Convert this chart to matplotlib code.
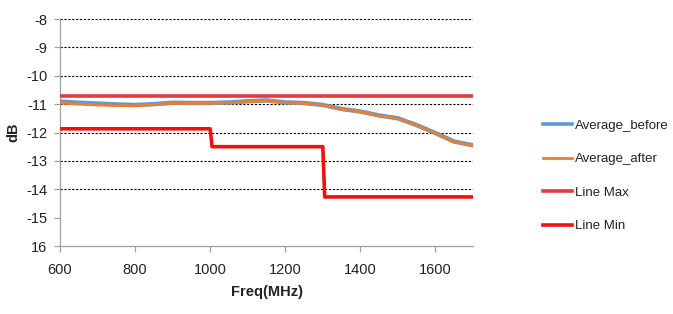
import matplotlib
matplotlib.use("Agg")
import matplotlib.pyplot as plt
from matplotlib.ticker import FixedLocator, FixedFormatter
from matplotlib.lines import Line2D

freq = [600, 650, 700, 750, 800, 850, 900, 950, 1000, 1050, 1100, 1150, 1200,
        1250, 1300, 1350, 1400, 1450, 1500, 1550, 1600, 1650, 1700]
avg_before = [-10.91, -10.95, -10.98, -11.01, -11.03, -11.0, -10.95, -10.96, -10.96,
              -10.94, -10.9, -10.87, -10.94, -10.96, -11.03, -11.17, -11.26, -11.4,
              -11.5, -11.74, -12.02, -12.32, -12.45]
avg_after = [-10.96, -11.0, -11.03, -11.05, -11.06, -11.02, -10.97, -10.97, -10.97,
             -10.95, -10.91, -10.88, -10.95, -10.97, -11.04, -11.18, -11.27, -11.41,
             -11.51, -11.75, -12.03, -12.33, -12.46]
max_freq = [600, 1700]
line_max = [-10.7, -10.7]
min_freq = [600, 1000, 1005, 1300, 1305, 1700]
line_min = [-11.87, -11.87, -12.5, -12.5, -14.27, -14.27]

y_ticks = [-8, -9, -10, -11, -12, -13, -14, -15, -16]
y_labels = ["-8", "-9", "-10", "-11", "-12", "-13", "-14", "-15", "16"]
x_ticks = [600, 800, 1000, 1200, 1400, 1600]
series_names = ["Average_before", "Average_after", "Line Max", "Line Min"]

font = ['Liberation Sans', 'DejaVu Sans']
plt.rcParams['font.family'] = font

fig = plt.figure(figsize=(6.73, 3.14), dpi=100)
ax = fig.add_axes([60/673, 1-246/314, 413/673, 227/314])

c_blue = '#5b9bd5'
c_orange = '#ed7d31'
c_max = '#e23a3f'
c_min = '#f01010'

for y in y_ticks[:-2]:
    ax.axhline(y, color='black', lw=0.8, ls=(0, (2, 1.5)), zorder=1)

ax.plot(freq, avg_before, color=c_blue, lw=3.2, zorder=3)
ax.plot(freq, avg_after, color=c_orange, lw=2.0, zorder=4)
ax.plot(max_freq, line_max, color=c_max, lw=2.6, zorder=3)
ax.plot(min_freq, line_min, color=c_min, lw=2.6, zorder=3)

ax.set_xlim(600, 1700)
ax.set_ylim(-16, -8)
ax.yaxis.set_major_locator(FixedLocator(y_ticks))
ax.yaxis.set_major_formatter(FixedFormatter(y_labels))
ax.set_xticks(x_ticks)

for s in ['top', 'right']:
    ax.spines[s].set_visible(False)
for s in ['left', 'bottom']:
    ax.spines[s].set_color('#a0a0a0')
    ax.spines[s].set_linewidth(0.9)
ax.tick_params(axis='both', colors='#a0a0a0', labelcolor='#222222',
               labelsize=10.5, length=4, width=0.9, direction='out')
ax.tick_params(axis='x', pad=8)
ax.tick_params(axis='y', pad=5)

ax.set_xlabel("Freq(MHz)", fontsize=10.5, fontweight='bold', color='#222222', labelpad=6)
ax.set_ylabel("dB", fontsize=10.5, fontweight='bold', color='#222222', labelpad=4)

handles = [Line2D([], [], color=c_blue, lw=2.6),
           Line2D([], [], color=c_orange, lw=2.0),
           Line2D([], [], color=c_max, lw=2.6),
           Line2D([], [], color=c_min, lw=2.6)]
leg = fig.legend(handles, series_names, loc='center left',
                 bbox_to_anchor=(543/673, 1-176/314), frameon=False,
                 borderaxespad=0, borderpad=0,
                 fontsize=9.5, handlelength=2.2, handletextpad=0.25,
                 labelspacing=1.6, labelcolor='#222222')

fig.savefig("out.png", dpi=100)
